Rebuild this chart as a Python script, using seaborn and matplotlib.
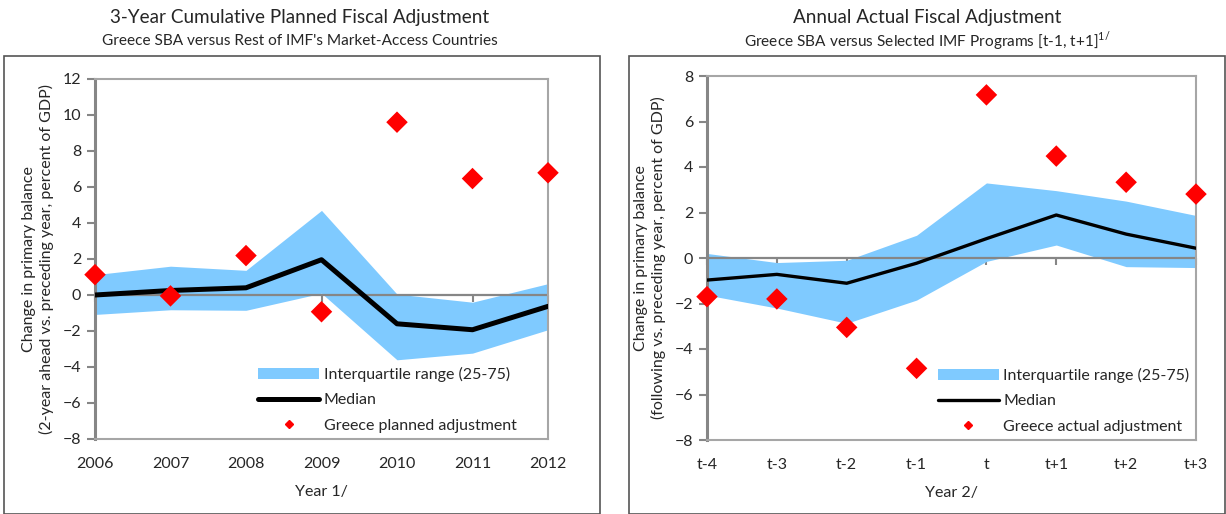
import numpy as np
import pandas as pd
import seaborn as sns
import matplotlib.pyplot as plt
from matplotlib.patches import Rectangle, Patch
from matplotlib.lines import Line2D

# Left panel: 3-year cumulative planned adjustment
years = ['2006', '2007', '2008', '2009', '2010', '2011', '2012']
left_q75 = [1.13, 1.6, 1.37, 4.7, 0.05, -0.4, 0.63]
left_q25 = [-1.08, -0.82, -0.85, 0.1, -3.6, -3.23, -1.93]
left_median = [0.0, 0.25, 0.4, 1.96, -1.6, -1.93, -0.63]
left_greece = [1.13, -0.05, 2.19, -0.93, 9.6, 6.47, 6.79]

# Right panel: annual actual adjustment
periods = ['t-4', 't-3', 't-2', 't-1', 't', 't+1', 't+2', 't+3']
right_q75 = [0.2, -0.2, -0.1, 1.0, 3.3, 2.96, 2.5, 1.87]
right_q25 = [-1.63, -2.2, -2.87, -1.85, -0.15, 0.57, -0.38, -0.42]
right_median = [-0.97, -0.72, -1.11, -0.23, 0.85, 1.89, 1.05, 0.43]
right_greece = [-1.7, -1.8, -3.05, -4.85, 7.17, 4.48, 3.33, 2.81]

sns.set_theme(style='white')
plt.rcParams['font.family'] = ['Lato', 'DejaVu Sans']

W, H = 1226, 514
fig = plt.figure(figsize=(W / 100, H / 100), dpi=100)

IQR_COL = '#7fcaff'
AX_COL = '#868686'
FRAME_COL = '#a6a6a6'


def px_axes(x0, x1, y0, y1):
    return fig.add_axes([x0 / W, 1 - y1 / H, (x1 - x0) / W, (y1 - y0) / H])


def draw_panel(ax, labels, q25, q75, med, greece, ylim, ystep, med_lw,
               ylabel, xlabel, greece_label, legend_right):
    df = pd.DataFrame({'x': np.arange(len(labels)), 'q25': q25, 'q75': q75,
                       'median': med, 'greece': greece})
    ax.fill_between(df['x'], df['q25'], df['q75'], color=IQR_COL, lw=0, zorder=1)
    ax.axhline(0, color=AX_COL, lw=1.6, zorder=2)
    sns.lineplot(data=df, x='x', y='median', color='black', lw=med_lw, ax=ax,
                 zorder=3)
    sns.scatterplot(data=df, x='x', y='greece', color='#ff0000', marker='D',
                    s=120, edgecolor='none', ax=ax, zorder=4, clip_on=False)

    ax.set_xlim(0, len(labels) - 1)
    ax.set_ylim(*ylim)
    ax.set_yticks(np.arange(ylim[0], ylim[1] + 0.1, ystep))
    ax.set_xticks(df['x'])
    ax.set_xticklabels(labels)
    ax.tick_params(axis='x', length=0, pad=13, labelsize=11.5)
    ax.tick_params(axis='y', length=6, width=1.5, color=AX_COL, pad=4,
                   labelsize=11.5, left=True)
    for side in ['top', 'right', 'bottom']:
        ax.spines[side].set_color(FRAME_COL)
        ax.spines[side].set_linewidth(1.5)
    ax.spines['left'].set_color(AX_COL)
    ax.spines['left'].set_linewidth(2.2)

    # tick marks along the zero line
    zero_pos = (0 - ylim[0]) / (ylim[1] - ylim[0])
    sec = ax.secondary_xaxis(zero_pos)
    sec.set_xticks(df['x'])
    sec.tick_params(direction='out', length=5, width=1.5, color=AX_COL,
                    labelbottom=False, labeltop=False, top=False, bottom=True)
    sec.spines['bottom'].set_visible(False)
    sec.spines['top'].set_visible(False)

    ax.set_ylabel(ylabel, fontsize=11.5, labelpad=6, linespacing=1.25)
    ax.set_xlabel(xlabel, fontsize=11.5, labelpad=10)

    handles = [Patch(facecolor=IQR_COL, edgecolor='none'),
               Line2D([], [], color='black', lw=med_lw),
               Line2D([], [], color='#ff0000', marker='D', ls='none', ms=4.5)]
    names = ['Interquartile range (25-75)', 'Median', greece_label]
    ax.legend(handles, names, loc='lower right', frameon=False, fontsize=11.5,
              handlelength=3.8, handletextpad=0.3, borderaxespad=0.0,
              labelspacing=0.7, bbox_to_anchor=(legend_right, 0.0))


ax1 = px_axes(95, 548, 79, 439)
draw_panel(ax1, years, left_q25, left_q75, left_median, left_greece,
           (-8, 12), 2, 3.6,
           'Change in primary balance\n(2-year ahead vs. preceding year, percent of GDP)',
           'Year 1/', 'Greece planned adjustment', 1 - 25 / 453)

ax2 = px_axes(707, 1196, 76, 440)
draw_panel(ax2, periods, right_q25, right_q75, right_median, right_greece,
           (-8, 8), 2, 2.4,
           'Change in primary balance\n(following vs. preceding year, percent of GDP)',
           'Year 2/', 'Greece actual adjustment', 1.0)

# panel frames
for x0, x1 in [(4, 600), (629, 1225)]:
    fig.add_artist(Rectangle((x0 / W, 0), (x1 - x0) / W, 1 - 56 / H,
                             transform=fig.transFigure, fill=False,
                             edgecolor='#555555', lw=1.2))

fig.text(300 / W, 1 - 18 / H, '3-Year Cumulative Planned Fiscal Adjustment',
         ha='center', va='center', fontsize=13.6)
fig.text(300 / W, 1 - 41 / H, "Greece SBA versus Rest of IMF's Market-Access Countries",
         ha='center', va='center', fontsize=11.1)
fig.text(927 / W, 1 - 18 / H, 'Annual Actual Fiscal Adjustment',
         ha='center', va='center', fontsize=13.6)
fig.text(927 / W, 1 - 41 / H,
         r'Greece SBA versus Selected IMF Programs [t-1, t+1]$^{\mathregular{1/}}$',
         ha='center', va='center', fontsize=11.1)

fig.savefig('out.png', dpi=100)
